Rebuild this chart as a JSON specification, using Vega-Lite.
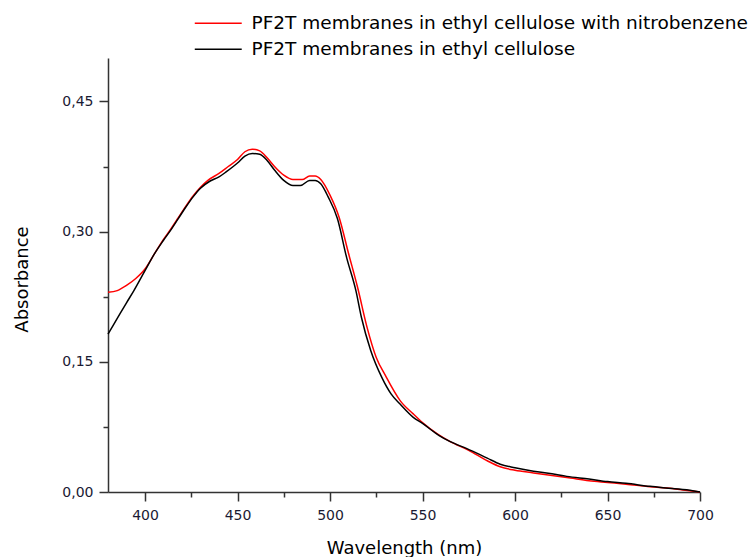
{
  "$schema": "https://vega.github.io/schema/vega-lite/v6.json",
  "width": 592,
  "height": 434,
  "autosize": {"type": "none"},
  "padding": {"left": 108, "top": 58, "right": 56, "bottom": 65},
  "background": "white",
  "config": {
    "view": {"stroke": null},
    "font": "DejaVu Sans"
  },
  "datasets": {
    "spectra": [
      {"wl": 380, "A": 0.230, "s": "PF2T membranes in ethyl cellulose with nitrobenzene"},
      {"wl": 385, "A": 0.232, "s": "PF2T membranes in ethyl cellulose with nitrobenzene"},
      {"wl": 390, "A": 0.238, "s": "PF2T membranes in ethyl cellulose with nitrobenzene"},
      {"wl": 395, "A": 0.246, "s": "PF2T membranes in ethyl cellulose with nitrobenzene"},
      {"wl": 400, "A": 0.257, "s": "PF2T membranes in ethyl cellulose with nitrobenzene"},
      {"wl": 405, "A": 0.274, "s": "PF2T membranes in ethyl cellulose with nitrobenzene"},
      {"wl": 410, "A": 0.291, "s": "PF2T membranes in ethyl cellulose with nitrobenzene"},
      {"wl": 414, "A": 0.303, "s": "PF2T membranes in ethyl cellulose with nitrobenzene"},
      {"wl": 418, "A": 0.316, "s": "PF2T membranes in ethyl cellulose with nitrobenzene"},
      {"wl": 422, "A": 0.329, "s": "PF2T membranes in ethyl cellulose with nitrobenzene"},
      {"wl": 426, "A": 0.341, "s": "PF2T membranes in ethyl cellulose with nitrobenzene"},
      {"wl": 430, "A": 0.351, "s": "PF2T membranes in ethyl cellulose with nitrobenzene"},
      {"wl": 434, "A": 0.359, "s": "PF2T membranes in ethyl cellulose with nitrobenzene"},
      {"wl": 440, "A": 0.367, "s": "PF2T membranes in ethyl cellulose with nitrobenzene"},
      {"wl": 445, "A": 0.375, "s": "PF2T membranes in ethyl cellulose with nitrobenzene"},
      {"wl": 450, "A": 0.383, "s": "PF2T membranes in ethyl cellulose with nitrobenzene"},
      {"wl": 454, "A": 0.392, "s": "PF2T membranes in ethyl cellulose with nitrobenzene"},
      {"wl": 458, "A": 0.395, "s": "PF2T membranes in ethyl cellulose with nitrobenzene"},
      {"wl": 462, "A": 0.393, "s": "PF2T membranes in ethyl cellulose with nitrobenzene"},
      {"wl": 466, "A": 0.385, "s": "PF2T membranes in ethyl cellulose with nitrobenzene"},
      {"wl": 470, "A": 0.375, "s": "PF2T membranes in ethyl cellulose with nitrobenzene"},
      {"wl": 475, "A": 0.365, "s": "PF2T membranes in ethyl cellulose with nitrobenzene"},
      {"wl": 480, "A": 0.360, "s": "PF2T membranes in ethyl cellulose with nitrobenzene"},
      {"wl": 485, "A": 0.360, "s": "PF2T membranes in ethyl cellulose with nitrobenzene"},
      {"wl": 489, "A": 0.364, "s": "PF2T membranes in ethyl cellulose with nitrobenzene"},
      {"wl": 492, "A": 0.364, "s": "PF2T membranes in ethyl cellulose with nitrobenzene"},
      {"wl": 495, "A": 0.360, "s": "PF2T membranes in ethyl cellulose with nitrobenzene"},
      {"wl": 500, "A": 0.342, "s": "PF2T membranes in ethyl cellulose with nitrobenzene"},
      {"wl": 505, "A": 0.316, "s": "PF2T membranes in ethyl cellulose with nitrobenzene"},
      {"wl": 510, "A": 0.275, "s": "PF2T membranes in ethyl cellulose with nitrobenzene"},
      {"wl": 515, "A": 0.235, "s": "PF2T membranes in ethyl cellulose with nitrobenzene"},
      {"wl": 520, "A": 0.190, "s": "PF2T membranes in ethyl cellulose with nitrobenzene"},
      {"wl": 525, "A": 0.155, "s": "PF2T membranes in ethyl cellulose with nitrobenzene"},
      {"wl": 530, "A": 0.134, "s": "PF2T membranes in ethyl cellulose with nitrobenzene"},
      {"wl": 538, "A": 0.105, "s": "PF2T membranes in ethyl cellulose with nitrobenzene"},
      {"wl": 545, "A": 0.090, "s": "PF2T membranes in ethyl cellulose with nitrobenzene"},
      {"wl": 550, "A": 0.080, "s": "PF2T membranes in ethyl cellulose with nitrobenzene"},
      {"wl": 558, "A": 0.067, "s": "PF2T membranes in ethyl cellulose with nitrobenzene"},
      {"wl": 565, "A": 0.058, "s": "PF2T membranes in ethyl cellulose with nitrobenzene"},
      {"wl": 575, "A": 0.048, "s": "PF2T membranes in ethyl cellulose with nitrobenzene"},
      {"wl": 585, "A": 0.036, "s": "PF2T membranes in ethyl cellulose with nitrobenzene"},
      {"wl": 592, "A": 0.029, "s": "PF2T membranes in ethyl cellulose with nitrobenzene"},
      {"wl": 600, "A": 0.025, "s": "PF2T membranes in ethyl cellulose with nitrobenzene"},
      {"wl": 610, "A": 0.022, "s": "PF2T membranes in ethyl cellulose with nitrobenzene"},
      {"wl": 620, "A": 0.019, "s": "PF2T membranes in ethyl cellulose with nitrobenzene"},
      {"wl": 630, "A": 0.016, "s": "PF2T membranes in ethyl cellulose with nitrobenzene"},
      {"wl": 640, "A": 0.013, "s": "PF2T membranes in ethyl cellulose with nitrobenzene"},
      {"wl": 650, "A": 0.011, "s": "PF2T membranes in ethyl cellulose with nitrobenzene"},
      {"wl": 660, "A": 0.009, "s": "PF2T membranes in ethyl cellulose with nitrobenzene"},
      {"wl": 673, "A": 0.006, "s": "PF2T membranes in ethyl cellulose with nitrobenzene"},
      {"wl": 685, "A": 0.004, "s": "PF2T membranes in ethyl cellulose with nitrobenzene"},
      {"wl": 692, "A": 0.002, "s": "PF2T membranes in ethyl cellulose with nitrobenzene"},
      {"wl": 700, "A": 0.000, "s": "PF2T membranes in ethyl cellulose with nitrobenzene"},
      {"wl": 380, "A": 0.182, "s": "PF2T membranes in ethyl cellulose"},
      {"wl": 385, "A": 0.200, "s": "PF2T membranes in ethyl cellulose"},
      {"wl": 390, "A": 0.218, "s": "PF2T membranes in ethyl cellulose"},
      {"wl": 394, "A": 0.232, "s": "PF2T membranes in ethyl cellulose"},
      {"wl": 400, "A": 0.255, "s": "PF2T membranes in ethyl cellulose"},
      {"wl": 405, "A": 0.274, "s": "PF2T membranes in ethyl cellulose"},
      {"wl": 410, "A": 0.290, "s": "PF2T membranes in ethyl cellulose"},
      {"wl": 414, "A": 0.302, "s": "PF2T membranes in ethyl cellulose"},
      {"wl": 418, "A": 0.315, "s": "PF2T membranes in ethyl cellulose"},
      {"wl": 422, "A": 0.328, "s": "PF2T membranes in ethyl cellulose"},
      {"wl": 426, "A": 0.340, "s": "PF2T membranes in ethyl cellulose"},
      {"wl": 430, "A": 0.350, "s": "PF2T membranes in ethyl cellulose"},
      {"wl": 435, "A": 0.358, "s": "PF2T membranes in ethyl cellulose"},
      {"wl": 440, "A": 0.363, "s": "PF2T membranes in ethyl cellulose"},
      {"wl": 444, "A": 0.369, "s": "PF2T membranes in ethyl cellulose"},
      {"wl": 450, "A": 0.379, "s": "PF2T membranes in ethyl cellulose"},
      {"wl": 454, "A": 0.387, "s": "PF2T membranes in ethyl cellulose"},
      {"wl": 458, "A": 0.390, "s": "PF2T membranes in ethyl cellulose"},
      {"wl": 462, "A": 0.389, "s": "PF2T membranes in ethyl cellulose"},
      {"wl": 466, "A": 0.382, "s": "PF2T membranes in ethyl cellulose"},
      {"wl": 470, "A": 0.371, "s": "PF2T membranes in ethyl cellulose"},
      {"wl": 475, "A": 0.359, "s": "PF2T membranes in ethyl cellulose"},
      {"wl": 480, "A": 0.353, "s": "PF2T membranes in ethyl cellulose"},
      {"wl": 484, "A": 0.353, "s": "PF2T membranes in ethyl cellulose"},
      {"wl": 489, "A": 0.359, "s": "PF2T membranes in ethyl cellulose"},
      {"wl": 492, "A": 0.359, "s": "PF2T membranes in ethyl cellulose"},
      {"wl": 495, "A": 0.355, "s": "PF2T membranes in ethyl cellulose"},
      {"wl": 499, "A": 0.340, "s": "PF2T membranes in ethyl cellulose"},
      {"wl": 504, "A": 0.315, "s": "PF2T membranes in ethyl cellulose"},
      {"wl": 509, "A": 0.270, "s": "PF2T membranes in ethyl cellulose"},
      {"wl": 514, "A": 0.232, "s": "PF2T membranes in ethyl cellulose"},
      {"wl": 517, "A": 0.201, "s": "PF2T membranes in ethyl cellulose"},
      {"wl": 522, "A": 0.163, "s": "PF2T membranes in ethyl cellulose"},
      {"wl": 528, "A": 0.132, "s": "PF2T membranes in ethyl cellulose"},
      {"wl": 533, "A": 0.113, "s": "PF2T membranes in ethyl cellulose"},
      {"wl": 538, "A": 0.101, "s": "PF2T membranes in ethyl cellulose"},
      {"wl": 545, "A": 0.086, "s": "PF2T membranes in ethyl cellulose"},
      {"wl": 550, "A": 0.079, "s": "PF2T membranes in ethyl cellulose"},
      {"wl": 559, "A": 0.065, "s": "PF2T membranes in ethyl cellulose"},
      {"wl": 565, "A": 0.058, "s": "PF2T membranes in ethyl cellulose"},
      {"wl": 574, "A": 0.050, "s": "PF2T membranes in ethyl cellulose"},
      {"wl": 585, "A": 0.039, "s": "PF2T membranes in ethyl cellulose"},
      {"wl": 592, "A": 0.032, "s": "PF2T membranes in ethyl cellulose"},
      {"wl": 600, "A": 0.028, "s": "PF2T membranes in ethyl cellulose"},
      {"wl": 610, "A": 0.024, "s": "PF2T membranes in ethyl cellulose"},
      {"wl": 620, "A": 0.021, "s": "PF2T membranes in ethyl cellulose"},
      {"wl": 628, "A": 0.018, "s": "PF2T membranes in ethyl cellulose"},
      {"wl": 640, "A": 0.015, "s": "PF2T membranes in ethyl cellulose"},
      {"wl": 650, "A": 0.012, "s": "PF2T membranes in ethyl cellulose"},
      {"wl": 660, "A": 0.010, "s": "PF2T membranes in ethyl cellulose"},
      {"wl": 673, "A": 0.0065, "s": "PF2T membranes in ethyl cellulose"},
      {"wl": 685, "A": 0.004, "s": "PF2T membranes in ethyl cellulose"},
      {"wl": 696, "A": 0.0015, "s": "PF2T membranes in ethyl cellulose"},
      {"wl": 700, "A": 0.000, "s": "PF2T membranes in ethyl cellulose"}
    ]
  },
  "data": {"name": "spectra"},
  "layer": [
    {
      "transform": [{"filter": "datum.s === 'PF2T membranes in ethyl cellulose with nitrobenzene'"}],
      "mark": {"type": "line", "strokeWidth": 1.5, "interpolate": "monotone"},
      "encoding": {
        "x": {
          "field": "wl", "type": "quantitative",
          "scale": {"domain": [380, 700], "nice": false, "zero": false},
          "axis": {
            "orient": "bottom",
            "values": [400, 450, 500, 550, 600, 650, 700],
            "title": "Wavelength (nm)",
            "titleFont": "DejaVu Sans", "titleFontSize": 18, "titleFontWeight": "normal", "titleColor": "#000000",
            "titleY": 61, "titleBaseline": "alphabetic",
            "labelFont": "DejaVu Sans", "labelFontSize": 14, "labelColor": "#1a1a33", "labelPadding": 7,
            "labelFlush": false, "labelOverlap": false,
            "grid": false, "domainColor": "#333333", "domainWidth": 1.5,
            "tickColor": "#333333", "tickWidth": 1.5, "tickSize": 9
          }
        },
        "y": {
          "field": "A", "type": "quantitative",
          "scale": {"domain": [0, 0.5], "nice": false},
          "axis": {
            "orient": "left",
            "values": [0, 0.15, 0.3, 0.45],
            "labelExpr": "replace(format(datum.value, '.2f'), '.', ',')",
            "title": "Absorbance",
            "titleFont": "DejaVu Sans", "titleFontSize": 18, "titleFontWeight": "normal", "titleColor": "#000000",
            "titleX": -81, "titleY": 221, "titleAngle": -90, "titleBaseline": "alphabetic", "titleAlign": "center",
            "labelFont": "DejaVu Sans", "labelFontSize": 14, "labelColor": "#1a1a33", "labelPadding": 6,
            "labelFlush": false, "labelOverlap": false,
            "grid": false, "domainColor": "#333333", "domainWidth": 1.5,
            "tickColor": "#333333", "tickWidth": 1.5, "tickSize": 9
          }
        },
        "color": {
          "field": "s", "type": "nominal",
          "scale": {
            "domain": ["PF2T membranes in ethyl cellulose with nitrobenzene", "PF2T membranes in ethyl cellulose"],
            "range": ["#ff0000", "#000000"]
          },
          "legend": {
            "orient": "none", "legendX": 101, "legendY": -44,
            "title": null, "symbolType": "M-3,0H3", "symbolSize": 245, "symbolStrokeWidth": 1.5,
            "labelFont": "DejaVu Sans", "labelFontSize": 18.5, "labelColor": "#000000",
            "labelLimit": 1000, "labelOffset": 24, "rowPadding": 7, "padding": 0
          }
        }
      }
    },
    {
      "transform": [{"filter": "datum.s === 'PF2T membranes in ethyl cellulose'"}],
      "mark": {"type": "line", "strokeWidth": 1.5, "interpolate": "monotone"},
      "encoding": {
        "x": {
          "field": "wl", "type": "quantitative",
          "scale": {"domain": [380, 700], "nice": false, "zero": false},
          "axis": {
            "orient": "bottom",
            "values": [425, 475, 525, 575, 625, 675],
            "title": null, "labels": false, "domain": false, "grid": false,
            "tickColor": "#333333", "tickWidth": 1.5, "tickSize": 5
          }
        },
        "y": {
          "field": "A", "type": "quantitative",
          "scale": {"domain": [0, 0.5], "nice": false},
          "axis": {
            "orient": "left",
            "values": [0.075, 0.225, 0.375],
            "title": null, "labels": false, "domain": false, "grid": false,
            "tickColor": "#333333", "tickWidth": 1.5, "tickSize": 5
          }
        },
        "color": {"field": "s", "type": "nominal"}
      }
    }
  ],
  "resolve": {"axis": {"x": "independent", "y": "independent"}}
}
